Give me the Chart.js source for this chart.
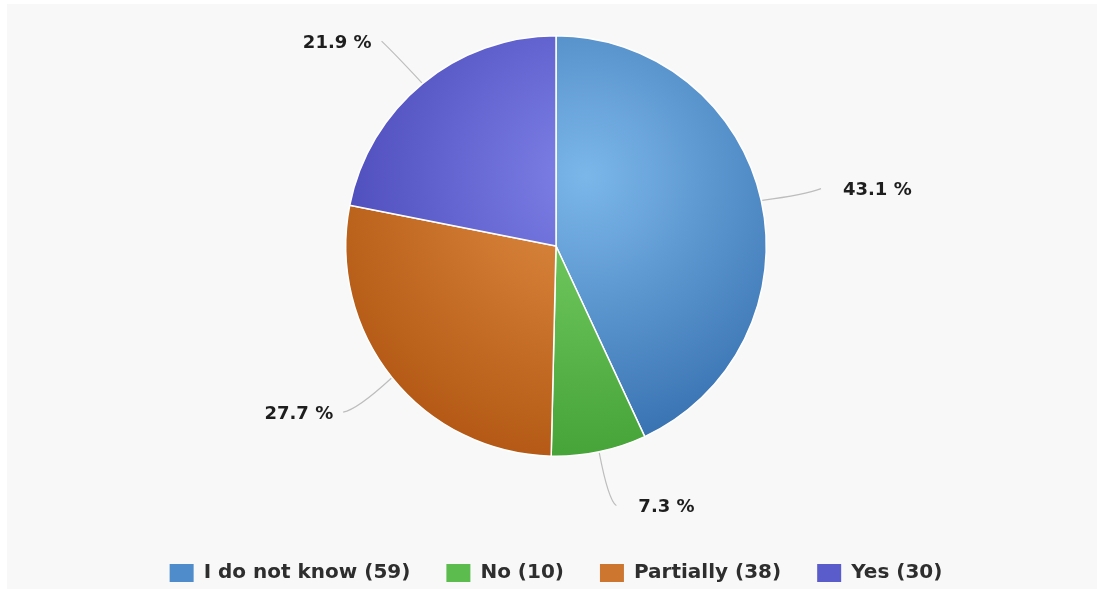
<!DOCTYPE html>
<html>
<head>
<meta charset="utf-8">
<script src="https://cdn.jsdelivr.net/npm/chart.js@4/dist/chart.umd.min.js"></script>
<style>
  html, body { margin: 0; padding: 0; background: #ffffff; }
  #wrap { position: absolute; left: 7px; top: 4px; width: 1090px; height: 585px; background: #f8f8f8; }
</style>
</head>
<body>
<div id="wrap"><canvas id="myChart" width="1090" height="585"></canvas></div>
<script>
// survey answers
const labels = ["I do not know", "No", "Partially", "Yes"];
const counts = [59, 10, 38, 30];
const lightColors = ["#7cb7ea", "#7bd26a", "#e18e44", "#7f82e8"];
const darkColors = ["#356eae", "#45a337", "#b45a16", "#4745b6"];
const legendColors = ["#4f8ccc", "#5cbd4e", "#cc7630", "#5a5ccc"];

const total = counts.reduce((a, b) => a + b, 0);
const FONT = "'DejaVu Sans', sans-serif";

function sliceFill(ctx) {
    const chart = ctx.chart;
    const area = chart.chartArea;
    const i = ctx.dataIndex;
    if (!area) return darkColors[i];
    const cx = (area.left + area.right) / 2;
    const cy = (area.top + area.bottom) / 2;
    const r = Math.min(area.right - area.left, area.bottom - area.top) / 2;
    const g = chart.ctx.createRadialGradient(cx + 30, cy - 70, 0, cx + 30, cy - 70, r * 1.35);
    g.addColorStop(0, lightColors[i]);
    g.addColorStop(1, darkColors[i]);
    return g;
}

// percentage labels with leader lines
const outsideLabels = {
    id: "outsideLabels",
    afterDatasetsDraw(chart) {
        const ctx = chart.ctx;
        const meta = chart.getDatasetMeta(0);
        ctx.save();
        meta.data.forEach((arc, i) => {
            const p = arc.getProps(["x", "y", "startAngle", "endAngle", "outerRadius"], true);
            const mid = (p.startAngle + p.endAngle) / 2;
            const cos = Math.cos(mid), sin = Math.sin(mid);
            const x0 = p.x + cos * (p.outerRadius + 1);
            const y0 = p.y + sin * (p.outerRadius + 1);
            const x1 = p.x + cos * (p.outerRadius + 55);
            const y1 = p.y + sin * (p.outerRadius + 55);
            const right = cos >= 0;
            const x2 = x1 + (right ? 6 : -6);
            ctx.strokeStyle = "#bdbdbd";
            ctx.lineWidth = 1.2;
            ctx.beginPath();
            ctx.moveTo(x0, y0);
            ctx.quadraticCurveTo(x1 - cos * 10, y1 - sin * 10 + 4, x2, y1);
            ctx.stroke();
            const pct = (counts[i] / total * 100).toFixed(1) + " %";
            ctx.fillStyle = "#1e1e1e";
            ctx.font = "bold 18px " + FONT;
            ctx.textBaseline = "middle";
            ctx.textAlign = right ? "left" : "right";
            ctx.fillText(pct, x2 + (right ? 22 : -10), y1 + 2);
        });
        ctx.restore();
    }
};

new Chart(document.getElementById("myChart"), {
    type: "pie",
    data: {
        labels: labels,
        datasets: [{
            data: counts,
            backgroundColor: sliceFill,
            borderColor: "#ffffff",
            borderWidth: 1.5
        }]
    },
    options: {
        responsive: false,
        animation: false,
        layout: { padding: { top: 31, left: 8, right: 0, bottom: -4 } },
        plugins: {
            tooltip: { enabled: false },
            legend: {
                position: "bottom",
                title: {
                    display: true,
                    text: "",
                    font: { size: 10 },
                    padding: { top: 0, bottom: 58 }
                },
                labels: {
                    color: "#333333",
                    font: { family: FONT, size: 20, weight: "bold" },
                    boxWidth: 24,
                    boxHeight: 18,
                    padding: 36,
                    generateLabels(chart) {
                        return labels.map((l, i) => ({
                            text: l + " (" + counts[i] + ")",
                            fillStyle: legendColors[i],
                            strokeStyle: "#ffffff",
                            fontColor: "#2e2e2e",
                            lineWidth: 0,
                            index: i
                        }));
                    }
                }
            }
        }
    },
    plugins: [outsideLabels]
});
</script>
</body>
</html>
